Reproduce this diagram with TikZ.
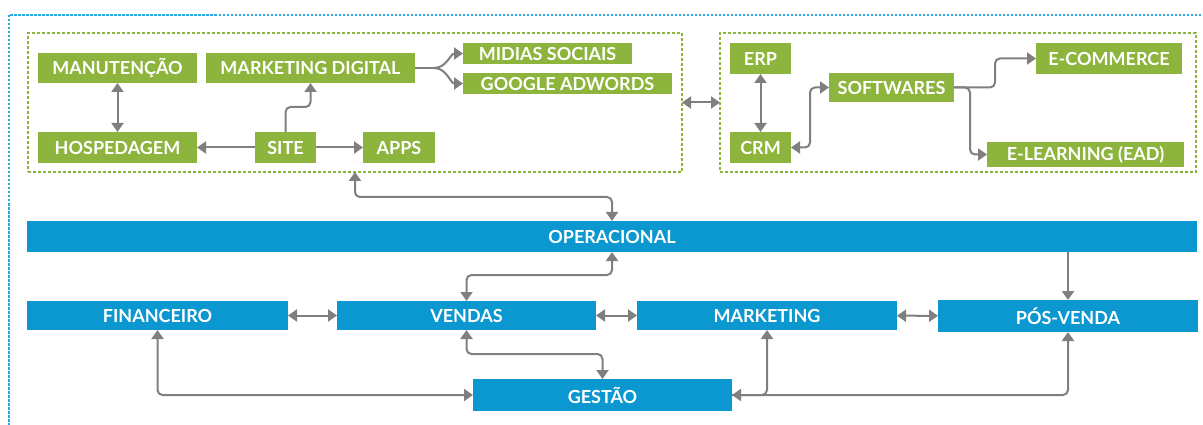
\documentclass[tikz,border=0pt]{standalone}
\usepackage{fontspec}
\setmainfont{Lato}
\usetikzlibrary{arrows.meta,calc}
\definecolor{leaf}{HTML}{8DB43C}
\definecolor{sea}{HTML}{0B97CF}
\definecolor{greyline}{HTML}{7F7F7F}
\definecolor{sky}{HTML}{2AA8E0}

\begin{document}
\begin{tikzpicture}[x=1pt,y=-1pt,
  label font/.style={font=\fontsize{18}{18}\selectfont\bfseries},
  gbox/.style={fill=leaf, text=white, inner sep=0pt, outer sep=0pt, label font},
  bbox/.style={fill=sea, text=white, inner sep=0pt, outer sep=0pt, label font},
  groupframe/.style={draw=leaf, dash pattern=on 3pt off 2pt, line width=1.2pt, inner sep=0pt, outer sep=0pt},
  conn/.style={draw=greyline, line width=2pt, rounded corners=5pt},
  tip/.tip={Triangle[length=9pt,width=12pt]},
  both/.style={conn, tip-tip},
  fwd/.style={conn, -tip},
]
\useasboundingbox (0,0) rectangle (1203,425);

% outer dotted border, running off the page at right and bottom
\begin{scope}
  \clip (0,0) rectangle (1203,425);
  \draw[sky, line width=1.2pt, dash pattern=on 2.5pt off 1.5pt] (9,15) rectangle (1230,450);
\end{scope}

% group frames
\node[groupframe, minimum width=654pt, minimum height=139pt] (web) at (355,102.5) {};
\node[groupframe, minimum width=476pt, minimum height=139pt] (sys) at (958,102.5) {};

% web group
\node[gbox, minimum width=159pt, minimum height=30pt] (manut) at (117.5,68) {MANUTENÇÃO};
\node[gbox, minimum width=209pt, minimum height=30pt] (mktd) at (310.5,68) {MARKETING DIGITAL};
\node[gbox, minimum width=159pt, minimum height=31pt] (hosp) at (117.5,147.5) {HOSPEDAGEM};
\node[gbox, minimum width=61pt, minimum height=31pt] (site) at (285.5,147.5) {SITE};
\node[gbox, minimum width=72pt, minimum height=31pt] (apps) at (399,147.5) {APPS};
\node[gbox, minimum width=169pt, minimum height=21pt] (midias) at (547.5,53.5) {MIDIAS SOCIAIS};
\node[gbox, minimum width=209pt, minimum height=21pt] (google) at (567.5,83.5) {GOOGLE ADWORDS};

% systems group
\node[gbox, minimum width=61pt, minimum height=31pt] (erp) at (760.5,58.5) {ERP};
\node[gbox, minimum width=61pt, minimum height=31pt] (crm) at (760.5,147.5) {CRM};
\node[gbox, minimum width=125pt, minimum height=29pt] (soft) at (891.5,87.5) {SOFTWARES};
\node[gbox, minimum width=146pt, minimum height=31pt] (ecom) at (1109,58.5) {E-COMMERCE};
\node[gbox, minimum width=197pt, minimum height=25pt] (elearn) at (1085.5,154.5) {E-LEARNING (EAD)};

% areas
\node[bbox, minimum width=1170pt, minimum height=31pt] (oper) at (612,236.5) {OPERACIONAL};
\node[bbox, minimum width=261pt, minimum height=29pt] (fin) at (157.5,315.5) {FINANCEIRO};
\node[bbox, minimum width=259pt, minimum height=29pt] (vendas) at (466.5,315.5) {VENDAS};
\node[bbox, minimum width=260pt, minimum height=29pt] (mkt) at (767,315.5) {MARKETING};
\node[bbox, minimum width=260pt, minimum height=32pt] (pos) at (1068,316) {PÓS-VENDA};
\node[bbox, minimum width=259pt, minimum height=32pt] (gestao) at (602.5,395) {GESTÃO};

% web links
\draw[both] (manut) -- (hosp);
\draw[fwd] (site) -- (hosp);
\draw[fwd] (site) -- (apps);
\draw[fwd] (site.north) -- ++(0,-25) -| (mktd.south);
\coordinate (split) at (434,68);
\draw[conn] (mktd.east) -- (split);
\draw[conn, -tip] (split) to[out=0, in=180] (midias.west);
\draw[conn, -tip] (split) to[out=0, in=180] (google.west);

% between groups
\draw[both] (web.east) -- (sys.west);

% systems links
\draw[both] (erp) -- (crm);
\draw[both] (crm.east) -- ++(19,0) |- (soft.west);
\draw[fwd] (soft.east) -- ++(41,0) |- (ecom.west);
\draw[fwd] (soft.east) -- ++(16,0) |- (elearn.west);

% areas links
\draw[both] (web.south) -- ++(0,25) -| (oper.north);
\draw[both] (oper.south) -- ++(0,23) -| (vendas.north);
\draw[both] (vendas.south) -- ++(0,24) -| (gestao.north);
\draw[both] (fin) -- (vendas);
\draw[both] (vendas) -- (mkt);
\draw[both] (mkt) -- (pos);
\draw[both] (fin.south) |- (gestao.west);
\draw[both] (mkt.south) |- (gestao.east);
\draw[fwd] (gestao.east) -| (pos.south);
\draw[fwd] (oper.south -| pos.north) -- (pos.north);
\end{tikzpicture}
\end{document}
